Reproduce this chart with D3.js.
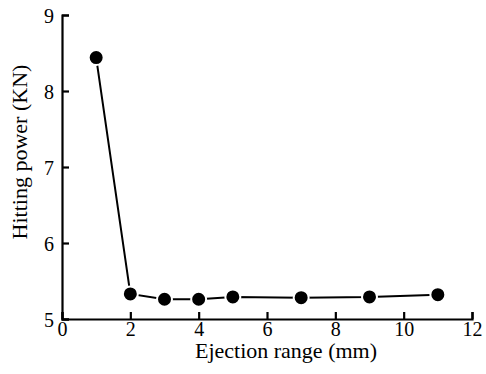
<!DOCTYPE html>
<html>
<head>
<meta charset="utf-8">
<script src="https://cdn.jsdelivr.net/npm/d3@7"></script>
<style>
  body { margin: 0; background: #fff; }
  text { font-family: "Liberation Serif", "DejaVu Serif", serif; fill: #000; }
</style>
</head>
<body>
<svg width="486" height="374"></svg>
<script>
// chart data
var ranges = [1, 2, 3, 4, 5, 7, 9, 11];
var power = [8.44, 5.33, 5.26, 5.26, 5.29, 5.28, 5.29, 5.32];
var xTicks = [0, 2, 4, 6, 8, 10, 12];
var yTicks = [5, 6, 7, 8, 9];

var svg = d3.select("svg");
var margin = { top: 15, right: 14, bottom: 55, left: 62 };
var width = +svg.attr("width") - margin.left - margin.right;
var height = +svg.attr("height") - margin.top - margin.bottom;

var x = d3.scaleLinear().domain([0, 12]).range([0, width]);
var y = d3.scaleLinear().domain([5, 9]).range([height, 0]);

var g = svg.append("g")
  .attr("transform", "translate(" + margin.left + "," + margin.top + ")");

var xAxis = g.append("g")
  .attr("transform", "translate(0," + height + ")")
  .call(d3.axisBottom(x).tickValues(xTicks).tickSize(-7).tickPadding(3).tickFormat(d3.format("d")));

var yAxis = g.append("g")
  .call(d3.axisLeft(y).tickValues(yTicks).tickSize(-7).tickPadding(8).tickFormat(d3.format("d")));

[xAxis, yAxis].forEach(function (a) {
  a.select(".domain").attr("stroke", "#000").attr("stroke-width", 2.2);
  a.selectAll(".tick line").attr("stroke", "#000").attr("stroke-width", 2.2);
  a.selectAll(".tick text").style("font-size", "20px").attr("fill", "#000");
});
xAxis.selectAll(".tick text").attr("dy", "0.7em");
yAxis.selectAll(".tick text").attr("dy", "0.35em");

var pts = ranges.map(function (r, i) { return { r: r, p: power[i] }; });

var line = d3.line()
  .x(function (d) { return x(d.r); })
  .y(function (d) { return y(d.p); });

g.append("path")
  .datum(pts)
  .attr("fill", "none")
  .attr("stroke", "#000")
  .attr("stroke-width", 2)
  .attr("d", line);

g.selectAll(".dot")
  .data(pts)
  .enter().append("circle")
  .attr("class", "dot")
  .attr("cx", function (d) { return x(d.r); })
  .attr("cy", function (d) { return y(d.p); })
  .attr("r", 7.5)
  .attr("fill", "#000")
  .attr("stroke", "#fff")
  .attr("stroke-width", 2);

svg.append("text")
  .attr("x", 286)
  .attr("y", 358)
  .attr("text-anchor", "middle")
  .style("font-size", "22px")
  .text("Ejection range (mm)");

svg.append("text")
  .attr("transform", "translate(27,152) rotate(-90)")
  .attr("text-anchor", "middle")
  .style("font-size", "22px")
  .text("Hitting power (KN)");
</script>
</body>
</html>
